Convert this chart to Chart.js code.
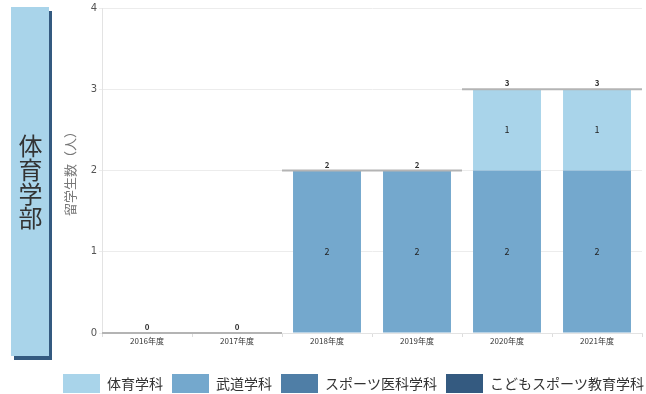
<!DOCTYPE html>
<html>
<head>
<meta charset="utf-8">
<script src="https://cdn.jsdelivr.net/npm/chart.js@4"></script>
<style>
  html, body { margin: 0; padding: 0; background: #fff; }
  #wrap { position: relative; width: 646px; height: 394px; }
  #panel {
    position: absolute; left: 11px; top: 7px; width: 38px; height: 349px;
    background: #a9d4ea; box-shadow: 3px 4px 0 #345a80;
    display: flex; align-items: center; justify-content: center;
  }
  #panel span {
    writing-mode: vertical-rl; text-orientation: upright;
    font-family: "Noto Sans CJK JP"; font-size: 24px; color: #333;
    line-height: 24px; margin-top: 0;
  }
  canvas { position: absolute; left: 0; top: 0; }
</style>
</head>
<body>
<div id="wrap">
  <canvas id="chart" width="646" height="394"></canvas>
  <div id="panel"><span>体育学部</span></div>
</div>
<script>
const years = ['2016年度', '2017年度', '2018年度', '2019年度', '2020年度', '2021年度'];
const taiiku = [0, 0, 0, 0, 1, 1];      // 体育学科
const budo = [0, 0, 2, 2, 2, 2];        // 武道学科
const sportsMed = [0, 0, 0, 0, 0, 0];   // スポーツ医科学科
const kodomo = [0, 0, 0, 0, 0, 0];      // こどもスポーツ教育学科
const yTicks = [0, 1, 2, 3, 4];

const font = '"Noto Sans CJK JP", "Noto Sans", sans-serif';

// totals line + label for each year, and value labels inside bars
const labelPlugin = {
    id: 'labels',
    afterLayout(chart) {
        // nudge legend to sit like the original (right edge / bottom)
        const lg = chart.legend;
        lg.left += 11; lg.right += 11;
        lg.top += 9; lg.bottom += 9;
    },
    afterDatasetsDraw(chart) {
        const ctx = chart.ctx;
        const x = chart.scales.x, y = chart.scales.y;
        const half = x.width / years.length / 2;
        ctx.save();
        ctx.textAlign = 'center';
        ctx.textBaseline = 'middle';
        ctx.font = '9px ' + font;
        ctx.fillStyle = '#222';
        chart.data.datasets.forEach((ds, di) => {
            const meta = chart.getDatasetMeta(di);
            meta.data.forEach((bar, i) => {
                if (!ds.data[i]) return;
                ctx.fillText(ds.data[i], bar.x, (bar.y + bar.base) / 2);
            });
        });
        years.forEach((yr, i) => {
            const total = taiiku[i] + budo[i] + sportsMed[i] + kodomo[i];
            const cx = x.getPixelForValue(i);
            const py = y.getPixelForValue(total);
            ctx.strokeStyle = '#b4b4b4';
            ctx.lineWidth = 2;
            ctx.beginPath();
            ctx.moveTo(cx - half, py);
            ctx.lineTo(cx + half, py);
            ctx.stroke();
            ctx.font = 'bold 8px ' + font;
            const w = ctx.measureText(String(total)).width + 4;
            ctx.fillStyle = '#fff';
            ctx.fillRect(cx - w / 2, py - 11, w, 9);
            ctx.fillStyle = '#333';
            ctx.fillText(total, cx, py - 6);
        });
        ctx.restore();
    }
};

new Chart(document.getElementById('chart'), {
    type: 'bar',
    data: {
        labels: years,
        datasets: [
            { label: 'こどもスポーツ教育学科', data: kodomo, backgroundColor: '#345a80' },
            { label: 'スポーツ医科学科', data: sportsMed, backgroundColor: '#4f7ea6' },
            { label: '武道学科', data: budo, backgroundColor: '#74a8cd' },
            { label: '体育学科', data: taiiku, backgroundColor: '#a9d4ea' }
        ]
    },
    options: {
        responsive: false,
        animation: false,
        layout: { padding: { left: 0, right: 4, top: 1, bottom: 0 } },
        datasets: { bar: { barPercentage: 0.755, categoryPercentage: 1 } },
        plugins: {
            tooltip: { enabled: false },
            legend: {
                position: 'bottom',
                align: 'end',
                reverse: true,
                labels: {
                    boxWidth: 37, boxHeight: 19, padding: 9,
                    color: '#333',
                    font: { family: font, size: 14 }
                }
            }
        },
        scales: {
            x: {
                stacked: true,
                afterFit(scale) { scale.height = 23; },
                grid: { drawOnChartArea: false, tickLength: 4, color: '#ddd' },
                border: { color: '#e3e3e3' },
                ticks: { color: '#333', font: { family: font, size: 8 }, padding: -1, maxRotation: 0 }
            },
            y: {
                stacked: true,
                min: 0, max: 4,
                afterFit(scale) { scale.width = 102; },
                afterBuildTicks(scale) { scale.ticks = yTicks.map(v => ({ value: v })); },
                grid: { color: '#ececec', tickLength: 3 },
                border: { color: '#e3e3e3' },
                title: {
                    display: true, text: '留学生数（人）', color: '#777',
                    font: { family: font, size: 13 }, padding: { top: 62, bottom: 0 }
                },
                ticks: { color: '#555', font: { family: '"DejaVu Sans"', size: 10 }, padding: 2 }
            }
        }
    },
    plugins: [labelPlugin]
});
</script>
</body>
</html>
